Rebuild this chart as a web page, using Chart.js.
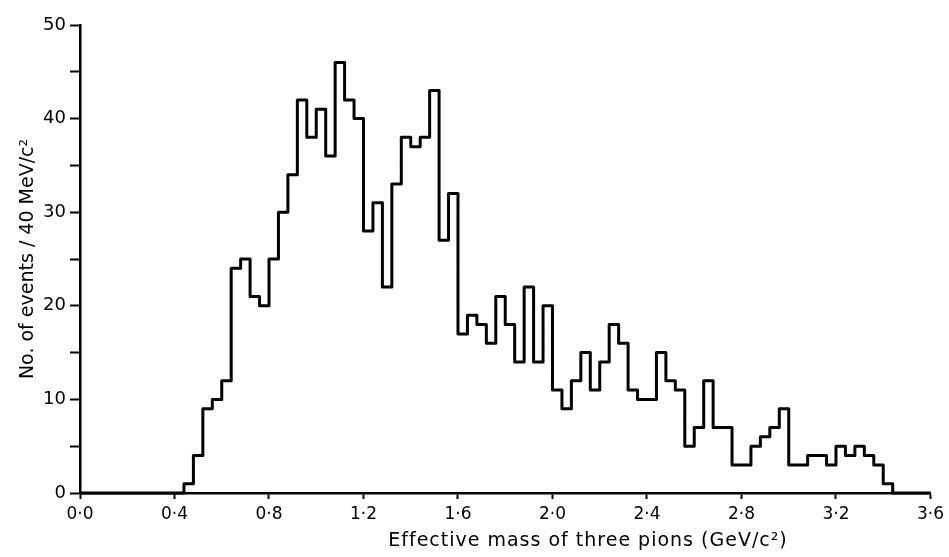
<!DOCTYPE html>
<html lang="en">
  <head>
    <meta charset="UTF-8">
    <script src="https://cdn.jsdelivr.net/npm/chart.js"></script>
    <title>Three pion mass</title>
    <style>
      body { margin: 0; background: #fff; }
      #wrap { width: 949px; height: 557px; }
    </style>
  </head>
  <body>
    <div id="wrap"><canvas id="myChart"></canvas></div>
    <script>
      // histogram: events per 40 MeV bin, first bin starts at 0.44 GeV
      const binStart = 0.44;
      const binWidth = 0.04;
      const counts = [
        1, 4, 9, 10, 12, 24, 25, 21, 20, 25,
        30, 34, 42, 38, 41, 36, 46, 42, 40, 28,
        31, 22, 33, 38, 37, 38, 43, 27, 32, 17,
        19, 18, 16, 21, 18, 14, 22, 14, 20, 11,
        9, 12, 15, 11, 14, 18, 16, 11, 10, 10,
        15, 12, 11, 5, 7, 12, 7, 7, 3, 3,
        5, 6, 7, 9, 3, 3, 4, 4, 3, 5,
        4, 5, 4, 3, 1
      ];
      const xTicks = [0, 0.4, 0.8, 1.2, 1.6, 2.0, 2.4, 2.8, 3.2, 3.6];
      const yLabels = [0, 10, 20, 30, 40, 50];
      const xTitle = 'Effective mass of three pions (GeV/c\u00B2)';
      const yTitle = 'No. of events / 40 MeV/c\u00B2';

      // step points at left bin edges, closed on the baseline at both ends
      const points = [{ x: 0, y: 0 }];
      counts.forEach((c, i) => points.push({ x: binStart + i * binWidth, y: c }));
      points.push({ x: binStart + counts.length * binWidth, y: 0 });
      points.push({ x: 3.6, y: 0 });

      const fontFam = "'DejaVu Sans', sans-serif";

      // x title sits right of centre in the original, so draw it by hand
      const xTitlePlugin = {
        id: 'xTitle',
        afterDraw(chart) {
          const c = chart.ctx;
          c.save();
          c.font = '19px ' + fontFam;
          c.letterSpacing = '1px';
          c.fillStyle = '#000';
          c.textAlign = 'center';
          c.textBaseline = 'middle';
          c.fillText(xTitle, 588, 541);
          c.restore();
        }
      };

      new Chart(document.getElementById('myChart'), {
        type: 'line',
        data: {
          datasets: [{
            data: points,
            stepped: true,
            borderColor: '#000',
            borderWidth: 3,
            borderJoinStyle: 'round',
            pointRadius: 0,
            fill: false,
            clip: false
          }]
        },
        options: {
          responsive: true,
          maintainAspectRatio: false,
          animation: false,
          layout: { padding: { top: 25, right: 17, left: 0, bottom: 0 } },
          plugins: { legend: { display: false }, tooltip: { enabled: false } },
          scales: {
            x: {
              type: 'linear',
              min: 0,
              max: 3.6,
              afterFit: (s) => { s.height = 64; },
              afterBuildTicks: (s) => { s.ticks = xTicks.map(v => ({ value: v })); },
              border: { display: true, color: '#000', width: 2.5 },
              grid: { drawOnChartArea: false, drawTicks: true, tickLength: 6, tickColor: '#000', tickWidth: 2 },
              ticks: {
                color: '#000',
                padding: 5,
                maxRotation: 0,
                font: { family: fontFam, size: 17 },
                callback: (v) => Number(v).toFixed(1).replace('.', '\u00B7')
              }
            },
            y: {
              min: 0,
              max: 50,
              afterFit: (s) => { s.width = 80; },
              border: { display: true, color: '#000', width: 2.5 },
              grid: { drawOnChartArea: false, drawTicks: true, tickLength: 10, tickColor: '#000', tickWidth: 2 },
              ticks: {
                stepSize: 5,
                color: '#000',
                padding: 4,
                font: { family: fontFam, size: 18 },
                callback: (v) => yLabels.includes(v) ? String(v) : ''
              },
              title: {
                display: true,
                text: yTitle,
                color: '#000',
                padding: { top: 17, bottom: 0 },
                font: { family: fontFam, size: 19 }
              }
            }
          }
        },
        plugins: [xTitlePlugin]
      });
    </script>
  </body>
</html>
